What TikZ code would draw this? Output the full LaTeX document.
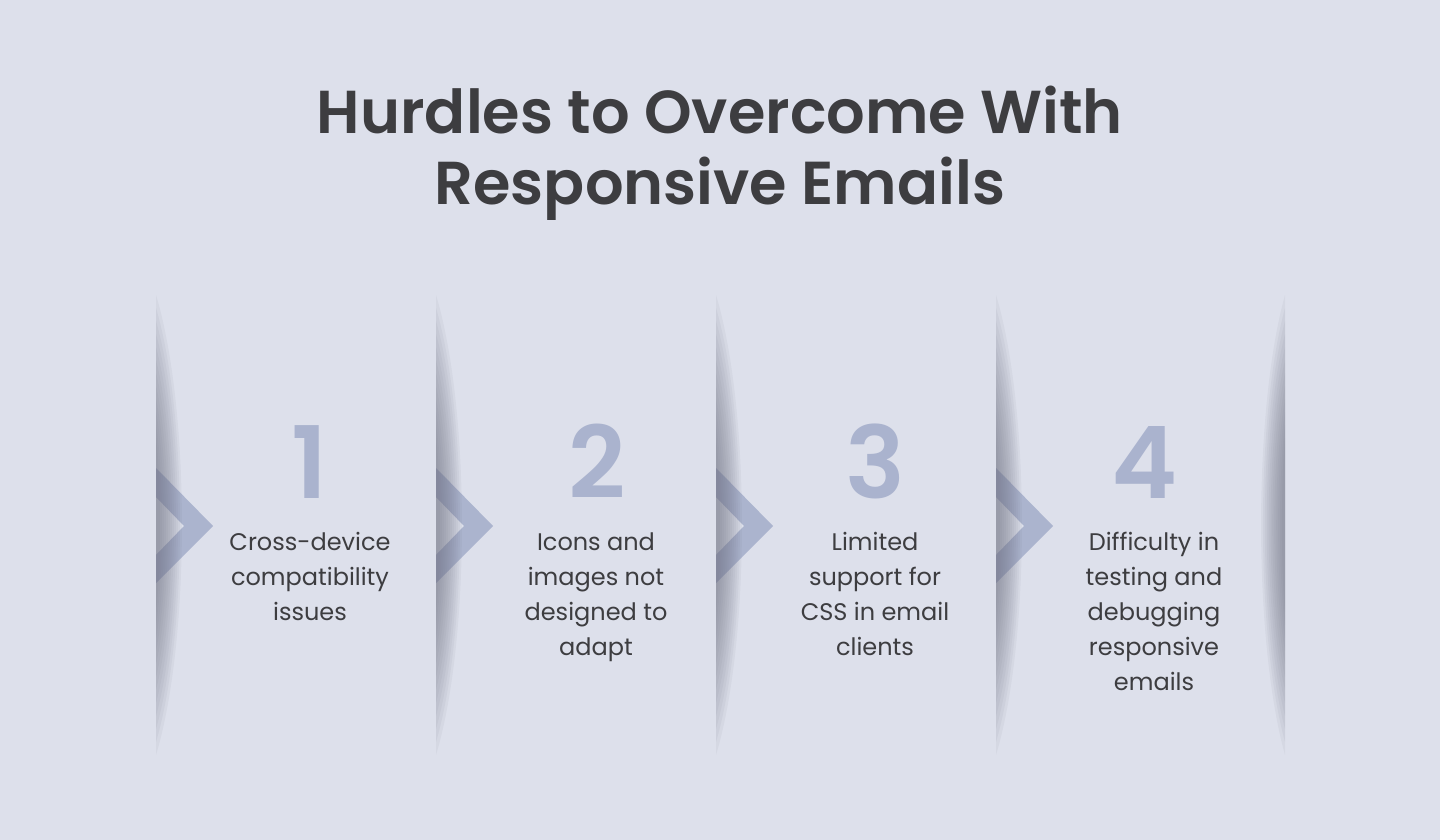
\documentclass[tikz,border=0pt]{standalone}
\usepackage{fontspec}
\setmainfont{Poppins}
\newfontfamily\semib{Poppins}[UprightFont=*-SemiBold]
\definecolor{bg}{RGB}{221,224,235}
\definecolor{ink}{RGB}{61,61,64}
\definecolor{numc}{RGB}{170,179,206}
\definecolor{chev}{RGB}{171,180,206}
\definecolor{shade}{RGB}{110,112,130}
\tikzset{
  title/.style={font=\fontsize{60.6}{70}\selectfont\semib, text=ink, align=center, inner sep=0pt},
  num/.style={font=\fontsize{100}{100}\selectfont\semib, text=numc, inner sep=0pt, anchor=base},
  body/.style={font=\fontsize{24}{35}\selectfont, text=ink, align=center, inner sep=0pt, anchor=base},
  lens/.style={fill=shade, fill opacity=0.07, draw=none},
  chevron/.style={fill=chev, draw=none}
}
\begin{document}
\begin{tikzpicture}[x=1pt,y=-1pt]
\fill[bg] (0,0) rectangle (1440,840);
\useasboundingbox (0,0) rectangle (1440,840);

\node[title, anchor=base] (t1) at (720,134) {Hurdles to Overcome With};
\node[title, anchor=base] (t2) at (720,204) {Responsive Emails};

% separators with chevrons
\foreach \sx/\nm in {156/s1,436/s2,716/s3,996/s4}{
  \coordinate (\nm) at (\sx,526);
  \fill[chevron] (\sx,468) -- (\sx+57,526) -- (\sx,583) -- (\sx,555) -- (\sx+28,526) -- (\sx,497) -- cycle;
  \foreach \i in {0,...,11}{
    \pgfmathsetmacro{\H}{230-13*\i}
    \pgfmathsetmacro{\W}{1.33*(26-2*\i)}
    \fill[lens] (\sx,525-\H) .. controls (\sx+\W,525-0.5*\H) and (\sx+\W,525+0.5*\H) .. (\sx,525+\H) -- cycle;
  }
}
\coordinate (s5) at (1285,526);
\foreach \i in {0,...,11}{
  \pgfmathsetmacro{\H}{230-13*\i}
  \pgfmathsetmacro{\W}{1.33*(24-1.9*\i)}
  \fill[lens] (1285,525-\H) .. controls (1285-\W,525-0.5*\H) and (1285-\W,525+0.5*\H) .. (1285,525+\H) -- cycle;
}

% numbers
\node[num] (n1) at (310,498) {1};
\node[num] (n2) at (597,498) {2};
\node[num] (n3) at (875,498) {3};
\node[num] (n4) at (1145,498) {4};

% texts (base anchor = last line baseline)
\node[body] (b1) at (310,620) {Cross-device\\compatibility\\issues};
\node[body] (b2) at (596,655) {Icons and\\images not\\designed to\\adapt};
\node[body] (b3) at (875,655) {Limited\\support for\\CSS in email\\clients};
\node[body] (b4) at (1154,690) {Difficulty in\\testing and\\debugging\\responsive\\emails};
\end{tikzpicture}
\end{document}
